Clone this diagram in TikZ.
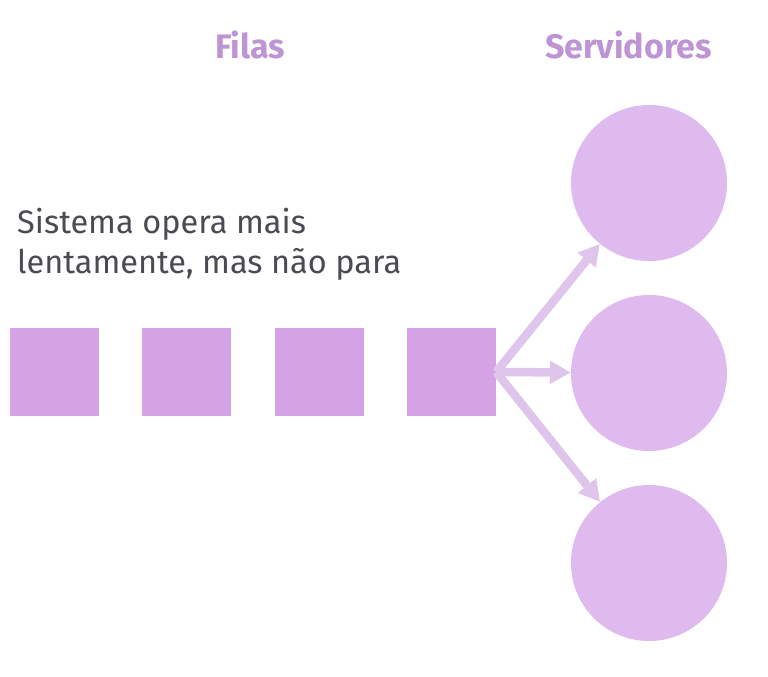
\documentclass[tikz,border=0pt]{standalone}
\usepackage{fontspec}
\setmainfont{Fira Sans}
\usetikzlibrary{arrows.meta}
\definecolor{sq}{HTML}{D4A2E5}
\definecolor{circ}{HTML}{DEBAEE}
\definecolor{arr}{HTML}{DFC4EC}
\definecolor{head}{HTML}{BE94D5}
\definecolor{txt}{HTML}{4A4A52}
\tikzset{
  queuebox/.style={fill=sq, draw=none, minimum width=89pt, minimum height=88pt, inner sep=0pt},
  server/.style={circle, fill=circ, draw=none, minimum size=156pt, inner sep=0pt},
  flow/.style={draw=arr, line width=8.5pt, -{Triangle[width=22pt,length=21pt]}},
  header/.style={text=head, font=\fontsize{34}{40}\selectfont\bfseries},
  body/.style={text=txt, font=\fontsize{32.5}{40}\selectfont, align=left, anchor=north west, inner sep=0pt}
}
\begin{document}
\begin{tikzpicture}[x=1pt,y=-1pt]
\useasboundingbox (0,0) rectangle (768,677);
\node[header] (filas) at (250,45) {Filas};
\node[header] (serv) at (628.5,45) {Servidores};
\node[body] (desc) at (17,208) {Sistema opera mais\\lentamente, mas não para};
\node[queuebox] (q1) at (54.5,372) {};
\node[queuebox] (q2) at (186.5,372) {};
\node[queuebox] (q3) at (319,372) {};
\node[queuebox] (q4) at (451.5,372) {};
\node[server] (s1) at (649,183) {};
\node[server] (s2) at (649,373) {};
\node[server] (s3) at (649,563) {};
\draw[flow] (q4.east) -- (s1);
\draw[flow] (q4.east) -- (s2);
\draw[flow] (q4.east) -- (s3);
\end{tikzpicture}
\end{document}
